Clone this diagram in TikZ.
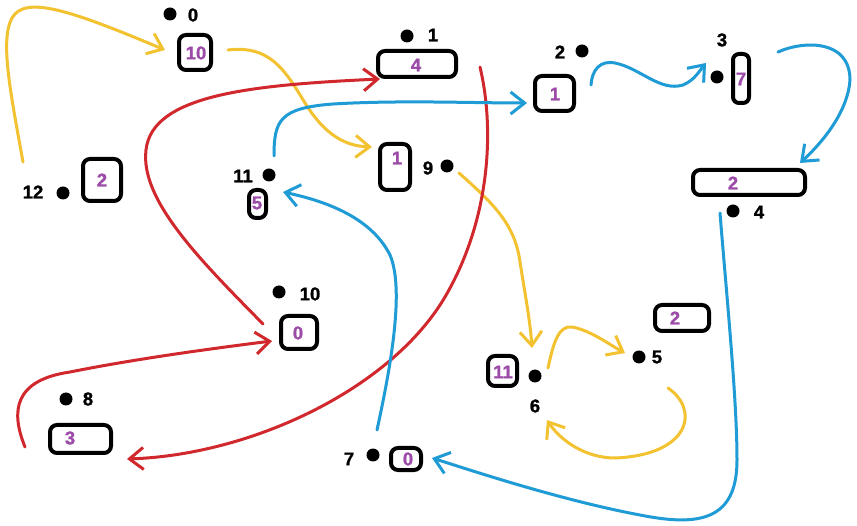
\documentclass[tikz,border=0pt]{standalone}
\usepackage{fontspec}
\setmainfont{Liberation Sans}[BoldFeatures={FakeBold=1.2}]
\usetikzlibrary{arrows.meta}
\definecolor{cyel}{HTML}{F2C230}
\definecolor{cred}{HTML}{D0282D}
\definecolor{cblu}{HTML}{1F9BD5}
\definecolor{cpur}{HTML}{9C4BA8}
\begin{document}
\begin{tikzpicture}[x=1pt,y=-1pt,
  box/.style={draw=black,line width=4pt,rounded corners=7pt,inner sep=0pt},
  dot/.style={circle,fill=black,inner sep=0pt,minimum size=13pt},
  lab/.style={font=\fontsize{18.5}{18.5}\selectfont\bfseries,text=black,inner sep=0pt},
  num/.style={lab,text=cpur},
  edge/.style={line width=3pt,line cap=round,-{Straight Barb[length=14pt,width=22pt]}},
  yel/.style={edge,draw=cyel},
  redline/.style={edge,draw=cred},
  blu/.style={edge,draw=cblu}]
\fill[white] (0,0) rectangle (857,526);
\useasboundingbox (0,0) rectangle (857,526);
% boxes
\node[box,minimum width=32pt,minimum height=35pt] (b0) at (195,52.5) {};
\node[box,minimum width=38pt,minimum height=42pt] (b12) at (102,180) {};
\node[box,minimum width=17pt,minimum height=28pt] (b11) at (257.5,204) {};
\node[box,minimum width=78pt,minimum height=26pt] (b1) at (417,64) {};
\node[box,minimum width=39pt,minimum height=35pt] (b2) at (554.5,93.5) {};
\node[box,minimum width=30pt,minimum height=46pt] (b9) at (395,167) {};
\node[box,minimum width=16pt,minimum height=49pt,rounded corners=6pt] (b3) at (741,78.5) {};
\node[box,minimum width=112pt,minimum height=25pt] (b4) at (749,182.5) {};
\node[box,minimum width=36pt,minimum height=33pt] (b10) at (299,332.5) {};
\node[box,minimum width=61pt,minimum height=28pt] (b8) at (80.5,439) {};
\node[box,minimum width=30pt,minimum height=22pt] (b7) at (406,459) {};
\node[box,minimum width=29pt,minimum height=30pt] (b6) at (502.5,371) {};
\node[box,minimum width=54pt,minimum height=26pt] (b5) at (682,318) {};
% box values
\node[num] (v0) at (196,53) {10};
\node[num] (v12) at (102,180) {2};
\node[num] (v11) at (257,203) {5};
\node[num] (v1) at (416,65) {4};
\node[num] (v2) at (555,94) {1};
\node[num] (v9) at (397,158) {1};
\node[num] (v3) at (741,79) {7};
\node[num] (v4) at (733,183) {2};
\node[num] (v10) at (298,333) {0};
\node[num] (v8) at (70,438) {3};
\node[num] (v7) at (408,459) {0};
\node[num] (v6) at (503,372) {11};
\node[num] (v5) at (675,318) {2};
% dots
\node[dot] (d0) at (170,14) {};
\node[dot] (d1) at (407,36) {};
\node[dot] (d2) at (582,51) {};
\node[dot] (d3) at (717,77) {};
\node[dot] (d4) at (733,211) {};
\node[dot] (d5) at (639,357) {};
\node[dot] (d6) at (535,376) {};
\node[dot] (d7) at (373,455) {};
\node[dot] (d8) at (66,399) {};
\node[dot] (d9) at (447,166) {};
\node[dot] (d10) at (279,292) {};
\node[dot] (d11) at (269,175) {};
\node[dot] (d12) at (63,193) {};
% dot labels
\node[lab] (l0) at (193,15) {0};
\node[lab] (l1) at (433,35) {1};
\node[lab] (l2) at (560,52) {2};
\node[lab] (l3) at (722,40) {3};
\node[lab] (l4) at (759,212) {4};
\node[lab] (l5) at (657,357) {5};
\node[lab] (l6) at (535,406) {6};
\node[lab] (l7) at (349,459) {7};
\node[lab] (l8) at (88,399) {8};
\node[lab] (l9) at (428,168) {9};
\node[lab] (l10) at (310,294) {10};
\node[lab] (l11) at (243,176) {11};
\node[lab] (l12) at (33,192) {12};
% connector ends
\coordinate (y1a) at (23,162);  \coordinate (y1b) at (165,50);
\coordinate (y2a) at (228,50);  \coordinate (y2b) at (372,147);
\coordinate (y3a) at (459,173); \coordinate (y3b) at (532,348);
\coordinate (y4a) at (548,368); \coordinate (y4b) at (625,353);
\coordinate (y5a) at (668,388); \coordinate (y5b) at (547,420);
\coordinate (r1a) at (263,324); \coordinate (r1b) at (380,79);
\coordinate (r2a) at (480,67);  \coordinate (r2b) at (127,459);
\coordinate (r3a) at (25,447);  \coordinate (r3b) at (272,341);
\coordinate (c1a) at (274,156); \coordinate (c1b) at (527,103);
\coordinate (c2a) at (591,85);  \coordinate (c2b) at (706,63);
\coordinate (c3a) at (778,52);  \coordinate (c3b) at (800,163);
\coordinate (c4a) at (720,213); \coordinate (c4b) at (432,458);
\coordinate (c5a) at (377,430); \coordinate (c5b) at (283,192);
% yellow
\draw[yel] (y1a) .. controls (10,90) and (0,40) .. (12,18) .. controls (25,-5) and (70,10) .. (y1b);
\draw[yel] (y2a) .. controls (270,45) and (285,70) .. (305,103) .. controls (325,135) and (345,146) .. (y2b);
\draw[yel] (y3a) .. controls (495,205) and (515,225) .. (520,262) .. controls (526,300) and (530,320) .. (y3b);
\draw[yel] (y4a) .. controls (553,345) and (558,325) .. (572,327) .. controls (590,330) and (610,345) .. (y4b);
\draw[yel] (y5a) .. controls (700,410) and (690,455) .. (615,458) .. controls (585,458) and (560,440) .. (y5b);
% red
\draw[redline] (r1a) .. controls (200,260) and (140,200) .. (146,150) .. controls (152,95) and (250,85) .. (r1b);
\draw[redline] (r2a) .. controls (495,130) and (490,220) .. (445,297) .. controls (390,390) and (250,455) .. (r2b);
\draw[redline] (r3a) .. controls (10,410) and (15,380) .. (70,372) .. controls (130,360) and (200,350) .. (r3b);
% blue
\draw[blu] (c1a) .. controls (274,120) and (280,108) .. (333,104) .. controls (400,100) and (470,103) .. (c1b);
\draw[blu] (c2a) .. controls (592,70) and (600,60) .. (615,63) .. controls (640,68) and (660,92) .. (683,85) .. controls (695,80) and (700,70) .. (c2b);
\draw[blu] (c3a) .. controls (805,40) and (850,40) .. (850,80) .. controls (848,110) and (825,140) .. (c3b);
\draw[blu] (c4a) .. controls (727,300) and (737,400) .. (737,460) .. controls (737,520) and (700,527) .. (640,515) .. controls (560,500) and (470,470) .. (c4b);
\draw[blu] (c5a) .. controls (390,370) and (405,290) .. (390,255) .. controls (370,215) and (320,200) .. (c5b);
\end{tikzpicture}
\end{document}
